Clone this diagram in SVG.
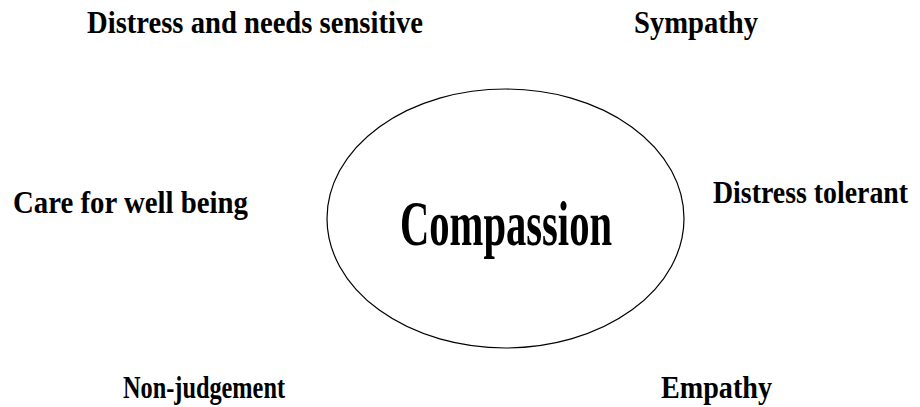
<svg xmlns="http://www.w3.org/2000/svg" width="920" height="407" viewBox="0 0 920 407">
<style>
.t{font-family:"Liberation Serif","Times New Roman",serif;font-weight:bold;fill:#000;font-size:32px}
.c{font-size:63px}
</style>
<rect width="920" height="407" fill="#fff"/>
<g id="compassion">
<ellipse cx="505.5" cy="218.5" rx="178.5" ry="129.5" fill="#fff" stroke="#000" stroke-width="1.2"/>
<text class="t c" x="400" y="245" textLength="212" lengthAdjust="spacingAndGlyphs">Compassion</text>
</g>
<g id="distress-needs"><text class="t" x="87" y="33" textLength="336" lengthAdjust="spacingAndGlyphs">Distress and needs sensitive</text></g>
<g id="sympathy"><text class="t" x="634" y="33" textLength="124" lengthAdjust="spacingAndGlyphs">Sympathy</text></g>
<g id="care"><text class="t" x="13" y="213" textLength="235" lengthAdjust="spacingAndGlyphs">Care for well being</text></g>
<g id="distress-tolerant"><text class="t" transform="translate(713,203) scale(0.87,1)" x="0" y="0">Distress tolerant</text></g>
<g id="non-judgement"><text class="t" x="123" y="398" textLength="162" lengthAdjust="spacingAndGlyphs">Non-judgement</text></g>
<g id="empathy"><text class="t" x="661" y="398" textLength="111" lengthAdjust="spacingAndGlyphs">Empathy</text></g>
<g id="connectors"></g>
</svg>
